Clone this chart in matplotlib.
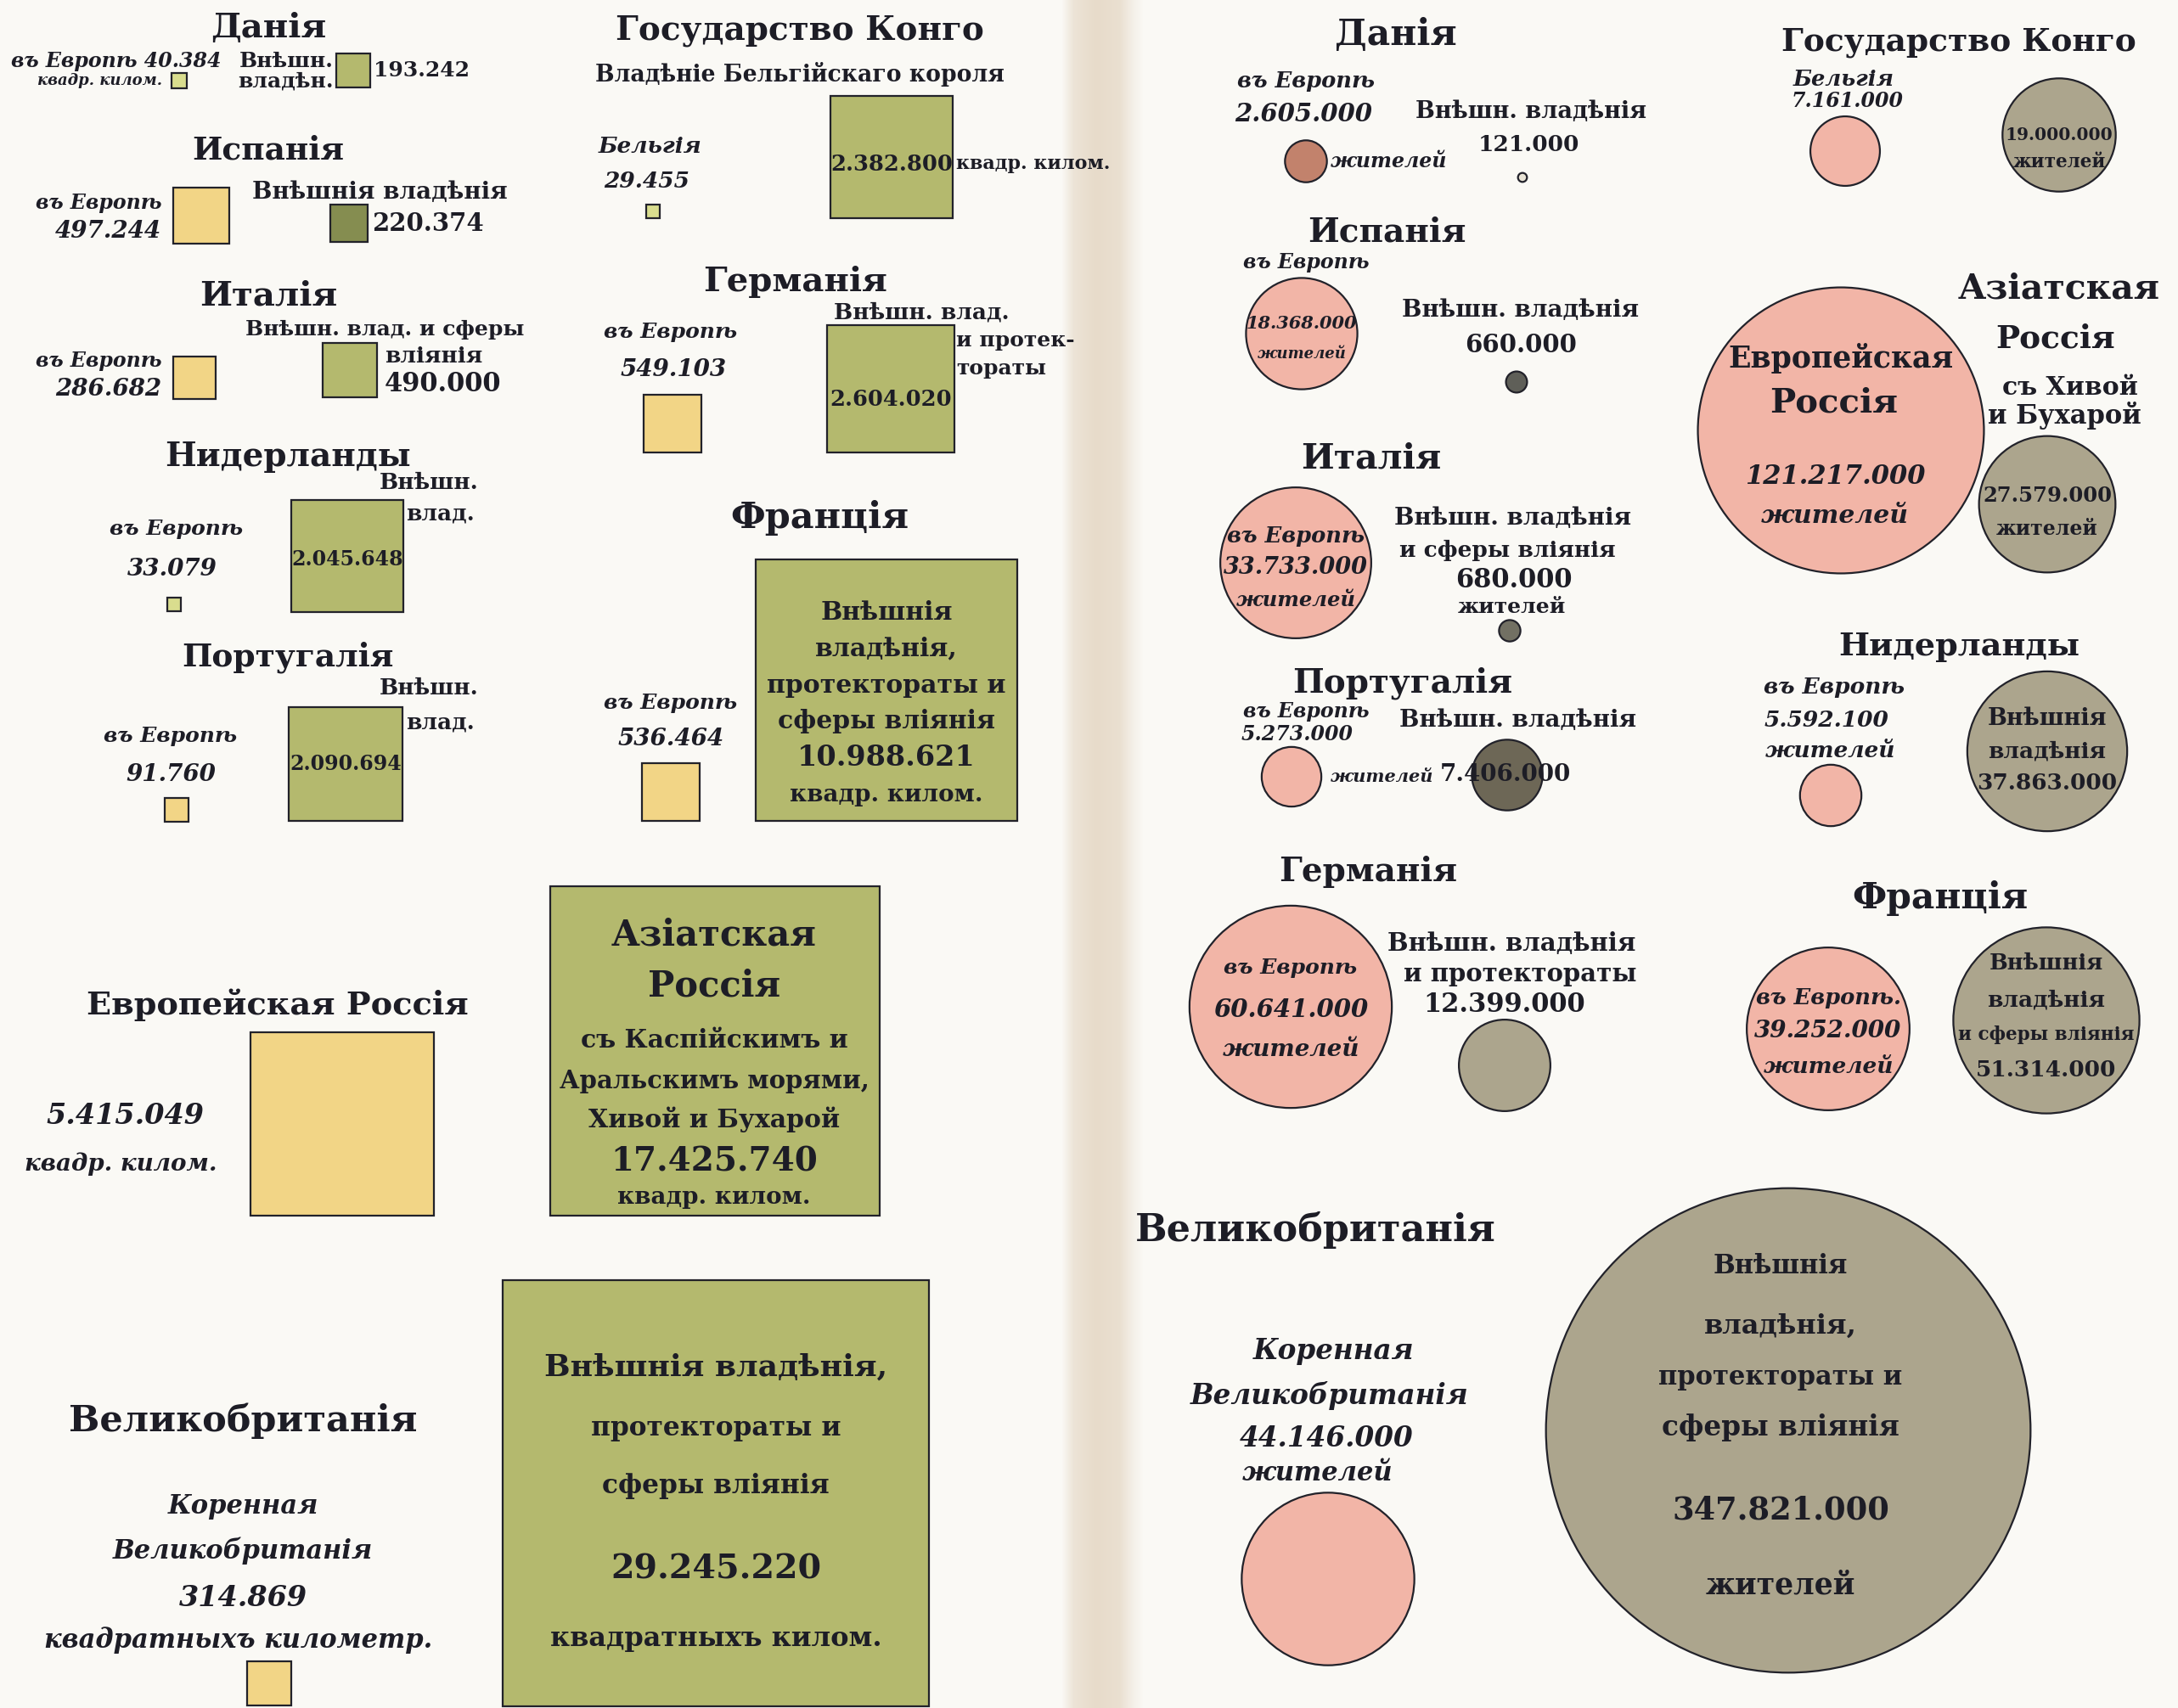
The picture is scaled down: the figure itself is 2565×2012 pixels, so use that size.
import numpy as np
import matplotlib.pyplot as plt
from matplotlib.patches import Rectangle, Circle

W, H = 2565, 2012

# ---- площадь, кв. километры (левая страница) ----
sq_states = ["Данія", "Испанія", "Италія", "Нидерланды", "Португалія",
             "Государство Конго", "Германія", "Франція", "Россія", "Великобританія"]
sq_europe = [40384, 497244, 286682, 33079, 91760, 29455, 549103, 536464, 5415049, 314869]
sq_outer = [193242, 220374, 490000, 2045648, 2090694, 2382800, 2604020,
            10988621, 17425740, 29245220]

# ---- население, жители (правая страница) ----
pop_states = ["Данія", "Испанія", "Италія", "Португалія", "Германія", "Великобританія",
              "Государство Конго", "Россія", "Нидерланды", "Франція"]
pop_europe = [2605000, 18368000, 33733000, 5273000, 60641000, 44146000,
              7161000, 121217000, 5592100, 39252000]
pop_outer = [121000, 660000, 680000, 7406000, 12399000, 347821000,
             19000000, 27579000, 37863000, 51314000]

# layout: centres of the marks, px
sq_europe_xy = [(211, 95), (237, 254), (229, 445), (205, 712), (208, 954),
                (769, 249), (792, 499), (790, 933), (403, 1324), (317, 1983)]
sq_outer_xy = [(416, 83), (411, 263), (412, 436), (409, 655), (407, 900),
               (1050, 185), (1049, 458), (1044, 813), (842, 1238), (843, 1759)]
pop_europe_xy = [(1538, 190), (1533, 393), (1526, 663), (1521, 915), (1520, 1186),
                 (1564, 1860), (2173, 178), (2168, 507), (2156, 937), (2153, 1212)]
pop_outer_xy = [(1793, 209), (1786, 450), (1778, 743), (1775, 913), (1772, 1255),
                (2106, 1685), (2425, 159), (2411, 594), (2411, 885), (2410, 1202)]

SQ_K = 0.0928   # side px per sqrt(km2)
CI_K = 0.0306   # diameter px per sqrt(people)

YELLOW = "#f2d586"
PALE = "#d9dd8e"
OLIVE = "#b4b96e"
DARK_OLIVE = "#858d50"
PINK = "#f2b5a7"
BROWN = "#c2826c"
GREY = "#aca58d"
DARK_GREY = "#727063"
INK = "#1d1d26"

sq_europe_col = [PALE, YELLOW, YELLOW, PALE, YELLOW, PALE, YELLOW, YELLOW, YELLOW, YELLOW]
sq_outer_col = [OLIVE, DARK_OLIVE, OLIVE, OLIVE, OLIVE, OLIVE, OLIVE, OLIVE, OLIVE, OLIVE]
pop_europe_col = [BROWN] + [PINK] * 9
pop_outer_col = ["#e9e4d6", "#5f5f58", DARK_GREY, "#6d6756", GREY, GREY, GREY, GREY, GREY, GREY]

SERIF = ["DejaVu Serif"]


def fmt(v):
    return f"{v:,}".replace(",", ".")


fig = plt.figure(figsize=(W / 100, H / 100), dpi=100)
ax = fig.add_axes([0, 0, 1, 1])

# paper with the book gutter
gx = np.arange(W)
shade = np.interp(gx, [0, 1250, 1264, 1290, 1318, 1334, 1346, W],
                  [0, 0, 0.7, 1.0, 0.85, 0.3, 0, 0])
paper = np.array([250, 249, 245]) / 255
gutter = np.array([231, 219, 202]) / 255
bg = paper[None, :] * (1 - shade[:, None]) + gutter[None, :] * shade[:, None]
ax.imshow(bg[None, :, :], extent=[0, W, H, 0], aspect="auto", zorder=0)

for v, (x, y), c in zip(sq_europe + sq_outer, sq_europe_xy + sq_outer_xy,
                        sq_europe_col + sq_outer_col):
    s = SQ_K * np.sqrt(v)
    ax.add_patch(Rectangle((x - s / 2, y - s / 2), s, s, fc=c, ec="#22222a", lw=1.6, zorder=2))

for v, (x, y), c in zip(pop_europe + pop_outer, pop_europe_xy + pop_outer_xy,
                        pop_europe_col + pop_outer_col):
    r = CI_K * np.sqrt(v) / 2
    ax.add_patch(Circle((x, y), r, fc=c, ec="#22222a", lw=1.6, zorder=2))


def T(s, x, y, size, ha="center"):
    ax.text(x, y, s, fontsize=size, family=SERIF, fontweight="bold", ha=ha, va="center",
            color=INK, zorder=3)


L = T


def I(s, x, y, size, ha="center"):
    ax.text(x, y, s, fontsize=size, family=SERIF, fontweight="bold", fontstyle="italic",
            ha=ha, va="center", color=INK, zorder=3)


# ---------------- left page: area ----------------
T("Данія", 316, 33, 29)
I("въ Европѣ " + fmt(sq_europe[0]), 137, 72, 17)
I("квадр. килом.", 118, 95, 13)
L("Внѣшн.", 393, 72, 18, ha="right")
L("владѣн.", 393, 95, 18, ha="right")
L(fmt(sq_outer[0]), 440, 83, 18, ha="left")

T("Испанія", 316, 177, 27)
I("въ Европѣ", 190, 239, 17, ha="right")
I(fmt(sq_europe[1]), 190, 272, 20, ha="right")
L("Внѣшнія владѣнія", 447, 226, 20)
L(fmt(sq_outer[1]), 438, 263, 21, ha="left")

T("Италія", 316, 348, 29)
I("въ Европѣ", 190, 425, 17, ha="right")
I(fmt(sq_europe[2]), 190, 458, 20, ha="right")
L("Внѣшн. влад. и сферы", 453, 388, 18)
L("вліянія", 453, 419, 19, ha="left")
L(fmt(sq_outer[2]), 453, 452, 22, ha="left")

T("Нидерланды", 339, 538, 28)
L("Внѣшн.", 447, 568, 19, ha="left")
L("влад.", 478, 605, 19, ha="left")
I("въ Европѣ", 208, 623, 18)
I(fmt(sq_europe[3]), 203, 671, 20)
L(fmt(sq_outer[3]), 409, 659, 17)

T("Португалія", 339, 774, 27)
L("Внѣшн.", 447, 811, 19, ha="left")
L("влад.", 478, 851, 19, ha="left")
I("въ Европѣ", 201, 867, 18)
I(fmt(sq_europe[4]), 201, 913, 20)
L(fmt(sq_outer[4]), 407, 900, 17)

T("Государство Конго", 942, 36, 28)
L("Владѣніе Бельгійскаго короля", 942, 87, 19.2)
I("Бельгія", 766, 172, 19)
I(fmt(sq_europe[5]), 762, 213, 19)
L(fmt(sq_outer[5]), 1050, 193, 18.5)
L("квадр. килом.", 1126, 193, 16, ha="left")

T("Германія", 937, 332, 29)
L("Внѣшн. влад.", 982, 368, 19, ha="left")
L("и протек-", 1126, 401, 18, ha="left")
L("тораты", 1126, 434, 18, ha="left")
I("въ Европѣ", 790, 391, 18)
I(fmt(sq_europe[6]), 793, 435, 20)
L(fmt(sq_outer[6]), 1049, 470, 18.5)

T("Франція", 965, 610, 31)
for s, y, fs in zip(["Внѣшнія", "владѣнія,", "протектораты и", "сферы вліянія",
                     fmt(sq_outer[7]), "квадр. килом."], [721, 764, 807, 849, 893, 937],
                    [21.5, 21.5, 21.5, 21.5, 24, 20]):
    L(s, 1044, y, fs)
I("въ Европѣ", 790, 828, 18)
I(fmt(sq_europe[7]), 790, 870, 20)

T("Европейская Россія", 327, 1184, 27.5)
I(fmt(sq_europe[8]), 147, 1315, 24)
I("квадр. килом.", 142, 1371, 20)
for s, y, fs in zip(["Азіатская", "Россія", "съ Каспійскимъ и", "Аральскимъ морями,",
                     "Хивой и Бухарой", fmt(sq_outer[8]), "квадр. килом."],
                    [1101, 1162, 1225, 1273, 1319, 1368, 1410],
                    [30, 30, 21.5, 21, 21.5, 28, 20]):
    L(s, 841, y, fs)

T("Великобританія", 286, 1674, 31)
I("Коренная", 286, 1775, 22)
I("Великобританія", 286, 1827, 22)
I(fmt(sq_europe[9]), 286, 1883, 24)
I("квадратныхъ километр.", 281, 1932, 22)
for s, y, fs in zip(["Внѣшнія владѣнія,", "протектораты и", "сферы вліянія",
                     fmt(sq_outer[9]), "квадратныхъ килом."],
                    [1611, 1682, 1751, 1849, 1930], [26, 22.5, 22.5, 28.5, 23]):
    L(s, 843, y, fs)

# ---------------- right page: population ----------------
T("Данія", 1644, 41, 30.5)
I("въ Европѣ", 1538, 95, 18.5)
I(fmt(pop_europe[0]), 1535, 134, 21)
I("жителей", 1567, 190, 17, ha="left")
L("Внѣшн. владѣнія", 1803, 131, 19.5)
L(fmt(pop_outer[0]), 1800, 170, 19)

T("Испанія", 1633, 273, 28)
I("въ Европѣ", 1538, 309, 17)
I(fmt(pop_europe[1]), 1533, 381, 15)
I("жителей", 1533, 417, 13)
L("Внѣшн. владѣнія", 1791, 365, 20)
L(fmt(pop_outer[1]), 1791, 406, 21)

T("Италія", 1615, 540, 29.5)
I("въ Европѣ", 1526, 631, 18.5)
I(fmt(pop_europe[2]), 1526, 669, 19.5)
I("жителей", 1526, 707, 17.5)
L("Внѣшн. владѣнія", 1782, 610, 20)
L("и сферы вліянія", 1775, 648, 19)
L(fmt(pop_outer[2]), 1783, 684, 22)
L("жителей", 1780, 715, 18)

T("Португалія", 1652, 805, 28)
I("въ Европѣ", 1538, 838, 17)
I(fmt(pop_europe[3]), 1528, 865, 17)
I("жителей", 1567, 915, 15, ha="left")
L("Внѣшн. владѣнія", 1788, 849, 20)
L(fmt(pop_outer[3]), 1773, 913, 20)

T("Германія", 1611, 1027, 28)
I("въ Европѣ", 1520, 1140, 18)
I(fmt(pop_europe[4]), 1520, 1189, 21)
I("жителей", 1520, 1237, 20)
L("Внѣшн. владѣнія", 1780, 1111, 21)
L("и протектораты", 1790, 1148, 21)
L(fmt(pop_outer[4]), 1772, 1184, 22)

T("Великобританія", 1549, 1449, 32)
I("Коренная", 1571, 1592, 23.5)
I("Великобританія", 1566, 1644, 23.5)
I(fmt(pop_europe[5]), 1562, 1695, 23.5)
I("жителей", 1551, 1736, 22)
for s, y, fs in zip(["Внѣшнія", "владѣнія,", "протектораты и", "сферы вліянія",
                     fmt(pop_outer[5]), "жителей"],
                    [1492, 1562, 1623, 1682, 1780, 1867], [22, 23, 22, 23.5, 26.5, 25]):
    L(s, 2097, y, fs)

T("Государство Конго", 2307, 49, 27)
I("Бельгія", 2171, 93, 18.5)
I(fmt(pop_europe[6]), 2176, 119, 17)
L(fmt(pop_outer[6]), 2425, 159, 14.5)
L("жителей", 2425, 191, 15.5)

T("Европейская", 2168, 422, 25)
T("Россія", 2160, 474, 29)
I(fmt(pop_europe[7]), 2161, 561, 22)
I("жителей", 2161, 607, 21.5)
T("Азіатская", 2425, 340, 29.5)
T("Россія", 2421, 399, 27)
L("съ Хивой", 2438, 456, 21.5)
L("и Бухарой", 2431, 489, 22)
L(fmt(pop_outer[7]), 2411, 584, 17.5)
L("жителей", 2411, 623, 17)

T("Нидерланды", 2307, 761, 27.5)
I("въ Европѣ", 2160, 810, 19)
I(fmt(pop_europe[8]), 2151, 849, 19)
I("жителей", 2155, 885, 19)
L("Внѣшнія", 2411, 846, 19.5)
L("владѣнія", 2411, 885, 19)
L(fmt(pop_outer[8]), 2411, 923, 19)

T("Франція", 2285, 1058, 30.5)
I("въ Европѣ.", 2153, 1175, 18.5)
I(fmt(pop_europe[9]), 2153, 1214, 20)
I("жителей", 2153, 1256, 19)
L("Внѣшнія", 2410, 1135, 18.5)
L("владѣнія", 2410, 1178, 19)
L("и сферы вліянія", 2410, 1219, 15.5)
L(fmt(pop_outer[9]), 2410, 1260, 19)

ax.set_xlim(0, W)
ax.set_ylim(H, 0)
ax.set_aspect("equal")
ax.axis("off")
fig.savefig("out.png", dpi=100)
